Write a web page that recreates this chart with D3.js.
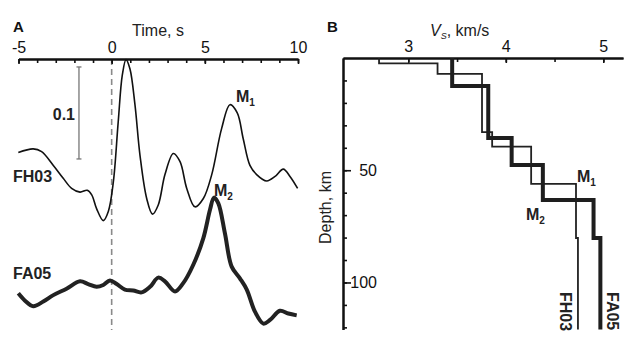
<!DOCTYPE html>
<html><head><meta charset="utf-8">
<script src="https://cdn.jsdelivr.net/npm/d3@7"></script>
<style>
html,body{margin:0;padding:0;background:#fff;}
svg{display:block;font-family:"Liberation Sans",Arial,sans-serif;}
</style></head><body>
<script>
// ---- Panel A data: time series (time in s, amplitude)
const fh03Time = [-5.01,-4.21,-3.76,-3.13,-2.60,-2.15,-1.70,-1.31,-1.07,-0.81,-0.45,-0.18,0.09,0.35,0.57,0.77,0.98,1.25,1.52,1.88,2.19,2.50,2.86,3.31,3.67,4.03,4.47,4.92,5.37,5.90,6.35,6.74,7.06,7.42,7.78,8.32,8.77,9.21,9.57,9.98];
const fh03Amp  = [0.019,0.023,0.020,0.005,-0.009,-0.020,-0.024,-0.022,-0.027,-0.042,-0.055,-0.045,-0.013,0.052,0.103,0.120,0.110,0.071,0.016,-0.031,-0.048,-0.038,-0.005,0.018,0.009,-0.020,-0.040,-0.031,-0.005,0.045,0.071,0.062,0.034,0.005,-0.005,-0.012,-0.007,0.001,-0.007,-0.020];
const fa05Time = [-5.01,-4.65,-4.21,-3.67,-3.13,-2.42,-1.70,-1.26,-0.81,-0.45,-0.09,0.27,0.71,1.16,1.61,2.06,2.50,2.86,3.40,3.84,4.38,4.92,5.28,5.49,5.72,6.08,6.44,6.89,7.25,7.69,8.14,8.50,9.03,9.48,9.93];
const fa05Amp  = [-0.004,-0.012,-0.018,-0.013,-0.006,0.001,0.009,0.006,0.003,0.005,0.010,0.006,0.000,-0.001,-0.003,0.003,0.013,0.009,-0.002,0.007,0.027,0.056,0.087,0.100,0.094,0.061,0.025,0.012,0.000,-0.024,-0.037,-0.033,-0.023,-0.026,-0.028];
const traceNames = ["FH03","FA05"];
const traceOffsets = [0, -0.13];
const timeTicks = [-5,0,5,10];
const scaleBar = {t:-1.755, from:0.012, to:0.112, label:"0.1"};

// ---- Panel B data: Vs profiles (layer tops/bottoms in km, Vs in km/s)
const fh03Depth = [0,2.4,7.1,33.0,39.5,56.1,80.2,121];
const fh03Vs    = [2.70,3.30,3.756,3.86,4.26,4.72,4.74];
const fa05Depth = [0,12.5,35.6,47.7,63.3,80.2,121];
const fa05Vs    = [3.45,3.82,4.06,4.38,4.90,4.97];
const vsTicks = [3,4,5];
const depthTicks = [50,100];

const W=640,H=345;
const svg=d3.select("body").append("svg").attr("width",W).attr("height",H);
const FONT='"Liberation Sans",Arial,sans-serif';

// ===== Panel A =====
const xT=d3.scaleLinear().domain([-5,10]).range([18.5,298]);
const yA=d3.scaleLinear().domain([0,0.1]).range([170,78]);
const axisYA=59, bottomA=330;

const gA=svg.append("g");
gA.append("line").attr("x1",xT(0)).attr("x2",xT(0)).attr("y1",axisYA).attr("y2",bottomA)
  .attr("stroke","#8a8a8a").attr("stroke-width",1.6).attr("stroke-dasharray","6,4");

const axA=gA.append("g").attr("transform",`translate(0,${axisYA})`);
axA.call(d3.axisTop(xT).tickValues(d3.range(-5,11,1)).tickSize(-4).tickSizeOuter(0).tickFormat(""));
const axAmaj=axA.append("g").call(d3.axisTop(xT).tickValues(timeTicks).tickSize(-5).tickSizeOuter(0).tickPadding(6).tickFormat(d=>d<0?"-"+Math.abs(d):String(d)));
axA.selectAll("path.domain").attr("stroke","#111").attr("stroke-width",2);
axA.selectAll(".tick line").attr("stroke","#111").attr("stroke-width",1.6);
axAmaj.selectAll(".tick text").attr("font-size",16).attr("font-family",FONT).attr("fill","#111");

gA.append("text").attr("x",158).attr("y",36).attr("text-anchor","middle").attr("font-size",16).attr("fill","#222").text("Time, s");
svg.append("text").attr("x",13).attr("y",32).attr("font-size",15).attr("font-weight","bold").attr("fill","#111").text("A");

// scale bar
gA.append("line").attr("x1",xT(scaleBar.t)).attr("x2",xT(scaleBar.t)).attr("y1",yA(scaleBar.from)).attr("y2",yA(scaleBar.to)).attr("stroke","#777").attr("stroke-width",1.3);
[scaleBar.from,scaleBar.to].forEach(v=>{
  gA.append("line").attr("x1",xT(scaleBar.t)-2.5).attr("x2",xT(scaleBar.t)+2.5).attr("y1",yA(v)).attr("y2",yA(v)).attr("stroke","#777").attr("stroke-width",1.3);
});
gA.append("text").attr("x",75).attr("y",120).attr("text-anchor","end").attr("font-size",16).attr("font-weight","bold").attr("fill","#222").text(scaleBar.label);

const lineA=(off)=>d3.line().x(d=>xT(d[0])).y(d=>yA(d[1]+off)).curve(d3.curveCatmullRom.alpha(0.5));
const fh03=fh03Time.map((t,i)=>[t,fh03Amp[i]]);
const fa05=fa05Time.map((t,i)=>[t,fa05Amp[i]]);
gA.append("path").attr("d",lineA(traceOffsets[0])(fh03)).attr("fill","none").attr("stroke","#111").attr("stroke-width",1.6);
gA.append("path").attr("d",lineA(traceOffsets[1])(fa05)).attr("fill","none").attr("stroke","#222").attr("stroke-width",4).attr("stroke-linejoin","round");

gA.append("text").attr("x",13).attr("y",182).attr("font-size",16).attr("font-weight","bold").attr("fill","#222").text(traceNames[0]);
gA.append("text").attr("x",13).attr("y",279).attr("font-size",16).attr("font-weight","bold").attr("fill","#222").text(traceNames[1]);

function mLabel(g,x,y,sub){
  const t=g.append("text").attr("x",x).attr("y",y).attr("font-size",16).attr("font-weight","bold").attr("fill","#222");
  t.append("tspan").text("M");
  t.append("tspan").attr("font-size",10).attr("dy",4).text(sub);
}
mLabel(gA,236,102,"1");
mLabel(gA,214,196,"2");

// ===== Panel B =====
const xV=d3.scaleLinear().domain([3,5]).range([408.3,603.3]);
const yD=d3.scaleLinear().domain([0,121]).range([58,329.6]);
const x0=xV.invert(343), x1=xV.invert(623);
xV.domain([x0,x1]).range([343,623]);

const gB=svg.append("g");
const axB=gB.append("g").attr("transform","translate(0,58)");
axB.call(d3.axisTop(xV).tickValues([3,3.5,4,4.5,5]).tickSize(-4).tickSizeOuter(0).tickFormat(""));
const axBmaj=axB.append("g").call(d3.axisTop(xV).tickValues(vsTicks).tickSize(-5).tickSizeOuter(0).tickPadding(6).tickFormat(d3.format("d")));
axB.selectAll("path.domain").attr("stroke","#111").attr("stroke-width",2);
axB.selectAll(".tick line").attr("stroke","#111").attr("stroke-width",1.6);
axBmaj.selectAll(".tick text").attr("font-size",16).attr("font-family",FONT).attr("fill","#111");

const ayB=gB.append("g").attr("transform","translate(343,0)");
ayB.call(d3.axisRight(yD).tickValues(d3.range(10,121,10)).tickSize(4).tickSizeOuter(0).tickFormat(""));
const ayBmaj=ayB.append("g").call(d3.axisRight(yD).tickValues(depthTicks).tickSize(8).tickSizeOuter(0).tickFormat(d3.format("d")));
ayB.selectAll("path.domain").attr("stroke","#111").attr("stroke-width",2);
ayB.selectAll(".tick line").attr("stroke","#111").attr("stroke-width",1.6);
ayBmaj.selectAll(".tick text").attr("font-size",16).attr("font-family",FONT).attr("fill","#111").attr("x",34).attr("text-anchor","end");

svg.append("text").attr("x",327).attr("y",32).attr("font-size",15).attr("font-weight","bold").attr("fill","#111").text("B");
const vt=gB.append("text").attr("x",430).attr("y",36).attr("font-size",16).attr("fill","#222");
vt.append("tspan").attr("font-style","italic").text("V");
vt.append("tspan").attr("font-style","italic").attr("font-size",9).attr("dy",3).text("S");
vt.append("tspan").attr("dy",-3).text(", km/s");

gB.append("text").attr("transform","translate(331,207.5) rotate(-90)").attr("text-anchor","middle").attr("font-size",16).attr("fill","#222").text("Depth, km");

function stepPts(depth,vs){const p=[];vs.forEach((v,i)=>{p.push([v,depth[i]]);p.push([v,depth[i+1]]);});return p;}
const lineB=d3.line().x(d=>xV(d[0])).y(d=>yD(d[1]));
gB.append("path").attr("d",lineB(stepPts(fh03Depth,fh03Vs))).attr("fill","none").attr("stroke","#222").attr("stroke-width",1.8);
gB.append("path").attr("d",lineB(stepPts(fa05Depth,fa05Vs))).attr("fill","none").attr("stroke","#1e1e1e").attr("stroke-width",4);

gB.append("text").attr("transform","translate(560,292) rotate(90)").attr("font-size",16).attr("font-weight","bold").attr("fill","#222").text(traceNames[0]);
gB.append("text").attr("transform","translate(607,292) rotate(90)").attr("font-size",16).attr("font-weight","bold").attr("fill","#222").text(traceNames[1]);

mLabel(gB,577,182,"1");
mLabel(gB,526,220,"2");
</script>
</body></html>
